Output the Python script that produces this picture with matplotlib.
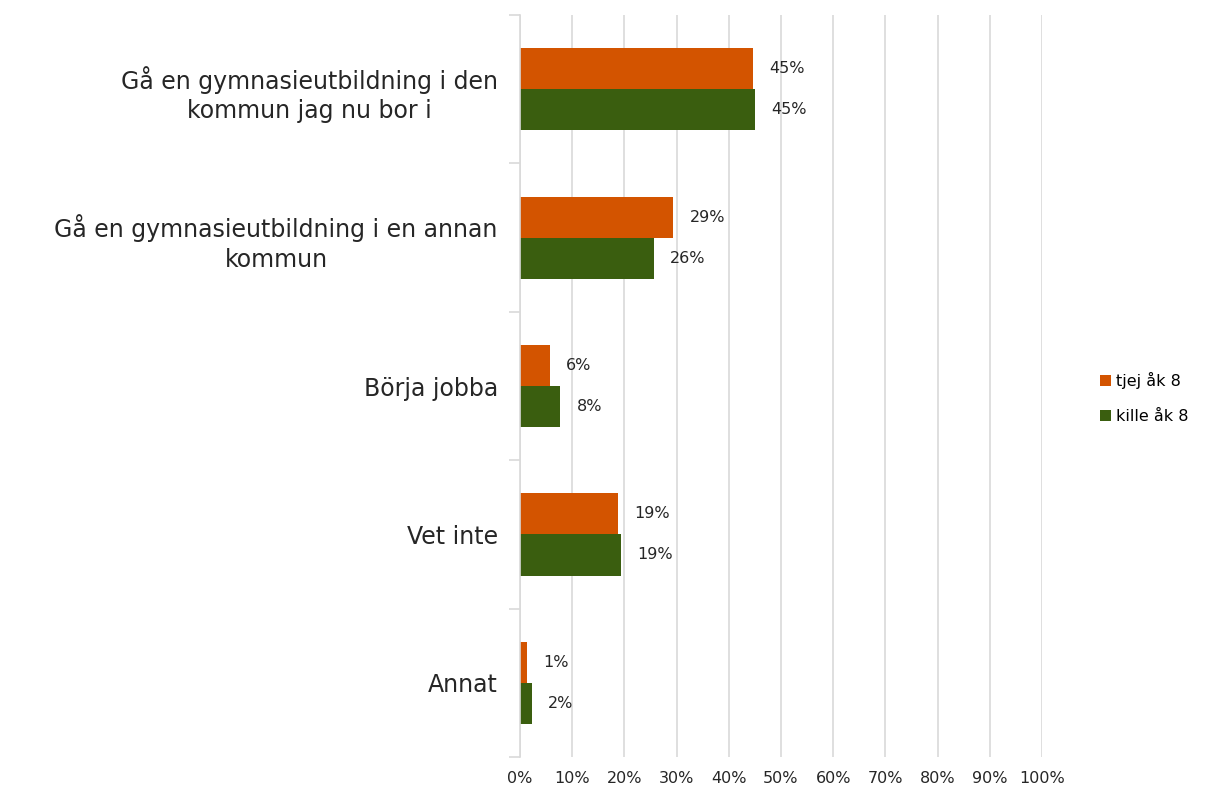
import matplotlib.pyplot as plt
import numpy as np

plt.rcParams['font.family'] = ['DejaVu Sans']

categories = ["Gå en gymnasieutbildning i den\nkommun jag nu bor i",
              "Gå en gymnasieutbildning i en annan\nkommun",
              "Börja jobba",
              "Vet inte",
              "Annat"]
tjej = [44.6, 29.4, 5.7, 18.8, 1.3]
kille = [45.0, 25.6, 7.7, 19.3, 2.3]
series_names = ["tjej åk 8", "kille åk 8"]
xticks = list(range(0, 101, 10))

orange = "#D35400"
green = "#3A5E0F"
grid_col = "#D9D9D9"
txt_col = "#262626"

fig = plt.figure(figsize=(12.08, 7.91), dpi=100)
ax = fig.add_axes([0.4305, 0.043, 0.432, 0.938])

y = np.arange(len(categories))
h = 0.277
b1 = ax.barh(y - h / 2, tjej, height=h, color=orange, label=series_names[0])
b2 = ax.barh(y + h / 2, kille, height=h, color=green, label=series_names[1])

# value labels to the right of each bar
for bars, vals in ((b1, tjej), (b2, kille)):
    for bar, v in zip(bars, vals):
        ax.text(v + 3.1, bar.get_y() + bar.get_height() / 2, "%.0f%%" % v,
                va="center", ha="left", fontsize=11.5, color=txt_col)

ax.set_xlim(0, 100)
ax.set_ylim(len(categories) - 0.5, -0.5)
ax.set_xticks(xticks)
ax.set_xticklabels(["%d%%" % t for t in xticks], fontsize=11.5, color=txt_col)
ax.tick_params(axis="x", length=0, pad=10)

ax.set_yticks(y)
ax.set_yticklabels(categories, fontsize=17, color=txt_col, linespacing=1.3,
                   multialignment="center")
ax.tick_params(axis="y", which="major", length=0, pad=16)
ax.set_yticks(np.arange(-0.5, len(categories)), minor=True)
ax.tick_params(axis="y", which="minor", length=8, color=grid_col, width=1.2)

ax.grid(axis="x", color=grid_col, linewidth=1.2)
ax.set_axisbelow(True)
for s in ("top", "right", "bottom"):
    ax.spines[s].set_visible(False)
ax.spines["left"].set_color(grid_col)
ax.spines["left"].set_linewidth(1.2)

fig.legend(handles=[b1, b2], loc="center left", bbox_to_anchor=(0.905, 0.497),
           frameon=False, fontsize=11.5, handlelength=0.7, handleheight=0.7,
           handletextpad=0.3, labelspacing=1.25, borderaxespad=0)

fig.savefig("out.png", dpi=100)
